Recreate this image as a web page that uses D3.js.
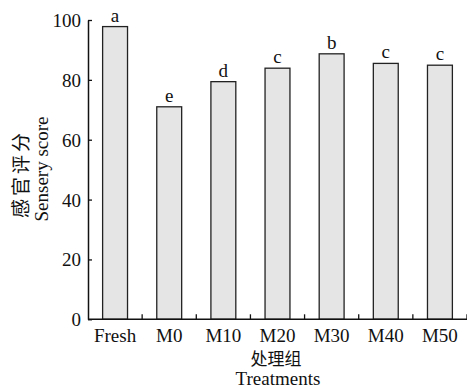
<!DOCTYPE html>
<html>
<head>
<meta charset="utf-8">
<script src="https://cdn.jsdelivr.net/npm/d3@7"></script>
<style>
  html, body { margin: 0; padding: 0; background: #fff; }
  svg { display: block; }
  .serif { font-family: "Liberation Serif", "Times New Roman", serif; fill: #111; }
  .cjk { font-family: "Noto Sans CJK SC", sans-serif; fill: #111; }
</style>
</head>
<body>
<svg id="chart" width="467" height="388"></svg>
<script>
// Sensory score per treatment group, with significance letters
const categories = ["Fresh", "M0", "M10", "M20", "M30", "M40", "M50"];
const scores = [97.8, 71.0, 79.4, 83.9, 88.7, 85.5, 84.9];
const letters = ["a", "e", "d", "c", "b", "c", "c"];
const yTicks = [0, 20, 40, 60, 80, 100];

const svg = d3.select("#chart");
const plot = { left: 88, right: 467, top: 20, bottom: 319.3 };
const serifFont = '"Liberation Serif", "Times New Roman", serif';

const x = d3.scaleBand()
  .domain(categories)
  .range([plot.left, plot.right])
  .paddingInner(0.54)
  .paddingOuter(0.27);

const y = d3.scaleLinear().domain([0, 100]).range([plot.bottom, plot.top]);

// bars
svg.append("g").selectAll("rect")
  .data(categories)
  .join("rect")
  .attr("x", d => x(d))
  .attr("y", (d, i) => y(scores[i]))
  .attr("width", x.bandwidth())
  .attr("height", (d, i) => y(0) - y(scores[i]))
  .attr("fill", "#e5e5e6")
  .attr("stroke", "#222")
  .attr("stroke-width", 1.3);

// significance letters
svg.append("g").selectAll("text")
  .data(categories)
  .join("text")
  .attr("class", "serif")
  .attr("x", d => x(d) + x.bandwidth() / 2)
  .attr("y", (d, i) => y(scores[i]) - 5)
  .attr("text-anchor", "middle")
  .attr("font-size", 19)
  .text((d, i) => letters[i]);

// y axis with inward ticks
const yAxis = d3.axisLeft(y).tickValues(yTicks).tickSize(-4).tickPadding(7).tickSizeOuter(0);
const gy = svg.append("g")
  .attr("transform", `translate(${plot.left},0)`)
  .call(yAxis)
  .attr("font-family", serifFont)
  .attr("font-size", 19);
gy.select(".domain").attr("stroke", "#111").attr("stroke-width", 1.5);
gy.selectAll(".tick line").attr("stroke", "#111").attr("stroke-width", 1.3);
gy.selectAll(".tick text")
  .style("font-family", serifFont)
  .attr("fill", "#111")
  .attr("dy", "0.34em");

// x axis: line, separator ticks between groups, and labels
const gx = svg.append("g").attr("transform", `translate(0,${plot.bottom})`);
gx.append("line")
  .attr("x1", plot.left).attr("x2", plot.right)
  .attr("stroke", "#111").attr("stroke-width", 1.5);
const step = x.step();
const seps = d3.range(1, categories.length + 1).map(i => plot.left + i * step);
gx.selectAll(".sep")
  .data(seps)
  .join("line")
  .attr("class", "sep")
  .attr("x1", d => d).attr("x2", d => d)
  .attr("y1", 0).attr("y2", -5)
  .attr("stroke", "#111").attr("stroke-width", 1.3);
gx.selectAll(".xl")
  .data(categories)
  .join("text")
  .attr("class", "serif xl")
  .attr("x", d => x(d) + x.bandwidth() / 2)
  .attr("y", 22.5)
  .attr("text-anchor", "middle")
  .attr("font-size", 19)
  .text(d => d);

// axis titles
svg.append("text")
  .attr("class", "cjk")
  .attr("x", 276).attr("y", 365)
  .attr("text-anchor", "middle")
  .attr("font-size", 17)
  .text("处理组");
svg.append("text")
  .attr("class", "serif")
  .attr("x", 278).attr("y", 385)
  .attr("text-anchor", "middle")
  .attr("font-size", 19)
  .text("Treatments");

svg.append("text")
  .attr("class", "cjk")
  .attr("transform", "translate(28,174) rotate(-90)")
  .attr("text-anchor", "middle")
  .attr("font-size", 19)
  .attr("letter-spacing", 3)
  .text("感官评分");
svg.append("text")
  .attr("class", "serif")
  .attr("transform", "translate(48,169) rotate(-90)")
  .attr("text-anchor", "middle")
  .attr("font-size", 19)
  .text("Sensery score");
</script>
</body>
</html>
